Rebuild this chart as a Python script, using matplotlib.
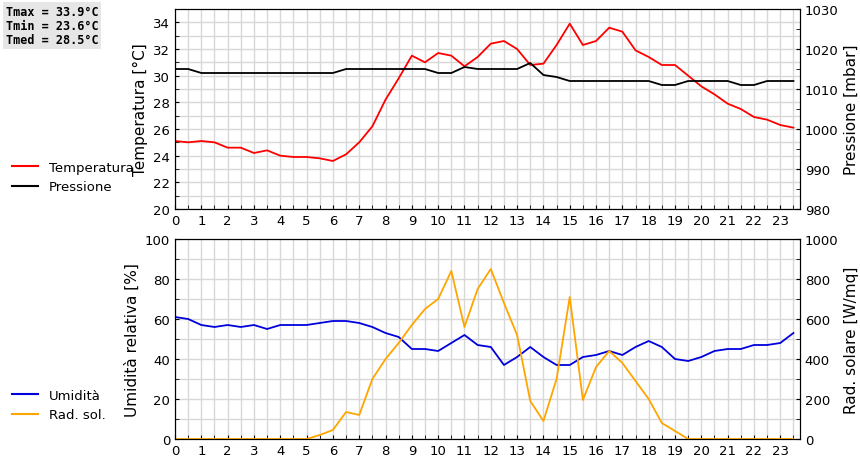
import numpy as np
import matplotlib.pyplot as plt
from matplotlib.lines import Line2D

hours = np.arange(0, 24, 0.5)
temperatura = [25.1, 25.0, 25.1, 25.0, 24.6, 24.6, 24.2, 24.4, 24.0, 23.9, 23.9, 23.8,
               23.6, 24.1, 25.0, 26.2, 28.2, 29.8, 31.5, 31.0, 31.7, 31.5, 30.7, 31.4,
               32.4, 32.6, 32.0, 30.8, 30.9, 32.3, 33.9, 32.3, 32.6, 33.6, 33.3, 31.9,
               31.4, 30.8, 30.8, 30.0, 29.2, 28.6, 27.9, 27.5, 26.9, 26.7, 26.3, 26.1]
pressione = [1015, 1015, 1014, 1014, 1014, 1014, 1014, 1014, 1014, 1014, 1014, 1014,
             1014, 1015, 1015, 1015, 1015, 1015, 1015, 1015, 1014, 1014, 1015.5, 1015,
             1015, 1015, 1015, 1016.5, 1013.5, 1013, 1012, 1012, 1012, 1012, 1012, 1012,
             1012, 1011, 1011, 1012, 1012, 1012, 1012, 1011, 1011, 1012, 1012, 1012]
umidita = [61, 60, 57, 56, 57, 56, 57, 55, 57, 57, 57, 58, 59, 59, 58, 56, 53, 51,
           45, 45, 44, 48, 52, 47, 46, 37, 41, 46, 41, 37, 37, 41, 42, 44, 42, 46,
           49, 46, 40, 39, 41, 44, 45, 45, 47, 47, 48, 53]
rad_sol = [0, 0, 0, 0, 0, 0, 0, 0, 0, 0, 0, 20, 45, 135, 120, 300, 400, 480, 570, 650,
           700, 840, 560, 750, 850, 680, 520, 190, 90, 300, 710, 195, 360, 440, 380, 290,
           200, 80, 40, 0, 0, 0, 0, 0, 0, 0, 0, 0]
stats_text = "Tmax = 33.9°C\nTmin = 23.6°C\nTmed = 28.5°C"

plt.rcParams["font.size"] = 9.5
fig = plt.figure(figsize=(8.6, 4.6), dpi=100)
W, H = 860, 460
ax1 = fig.add_axes([175 / W, 1 - 210 / H, 625 / W, 200 / H])
ax3 = fig.add_axes([175 / W, 1 - 440 / H, 625 / W, 200 / H])


def style(ax, ylim, ystep, yminor):
    ax.set_xlim(0, 23.75)
    ax.set_ylim(*ylim)
    ax.set_xticks(range(0, 24))
    ax.set_xticks(np.arange(0.5, 23.75, 0.5), minor=True)
    ax.set_yticks(np.arange(ylim[0], ylim[1] + 0.01, ystep))
    ax.set_yticks(np.arange(ylim[0], ylim[1] + 0.01, yminor), minor=True)
    ax.grid(True, which="both", color="#d8d8d8", linewidth=1)
    ax.set_axisbelow(True)
    ax.tick_params(which="both", direction="in", length=3)


style(ax1, (20, 34), 2, 1)
ax1.set_ylim(20, 35)
ax1.set_ylabel("Temperatura [°C]", fontsize=11)
ax1.plot(hours, temperatura, color="red", linewidth=1.3, zorder=3)
ax2 = ax1.twinx()
ax2.set_ylim(980, 1030)
ax2.set_yticks(range(980, 1031, 10))
ax2.set_yticks(range(985, 1030, 10), minor=True)
ax2.tick_params(which="both", direction="in", length=3)
ax2.set_ylabel("Pressione [mbar]", fontsize=11)
ax2.plot(hours, pressione, color="black", linewidth=1.3)

style(ax3, (0, 100), 20, 10)
ax3.set_ylabel("Umidità relativa [%]", fontsize=11)
ax3.plot(hours, umidita, color="#0000dd", linewidth=1.3, zorder=3)
ax4 = ax3.twinx()
ax4.set_ylim(0, 1000)
ax4.set_yticks(range(0, 1001, 200))
ax4.set_yticks(range(100, 1000, 200), minor=True)
ax4.tick_params(which="both", direction="in", length=3)
ax4.set_ylabel("Rad. solare [W/mq]", fontsize=11)
ax4.plot(hours, rad_sol, color="orange", linewidth=1.3)

fig.legend([Line2D([], [], color="red"), Line2D([], [], color="black")],
           ["Temperatura", "Pressione"], loc="upper left",
           bbox_to_anchor=(0, 1 - 150 / H), frameon=False, handlelength=2)
fig.legend([Line2D([], [], color="#0000dd"), Line2D([], [], color="orange")],
           ["Umidità", "Rad. sol."], loc="upper left",
           bbox_to_anchor=(0, 1 - 378 / H), frameon=False, handlelength=2)
fig.text(6 / W, 1 - 6 / H, stats_text, va="top", ha="left", family="DejaVu Sans Mono",
         fontsize=8.5, fontweight="bold", linespacing=1.1,
         bbox=dict(facecolor="#e6e6e6", edgecolor="none", pad=2))

fig.savefig("out.png", dpi=100)
